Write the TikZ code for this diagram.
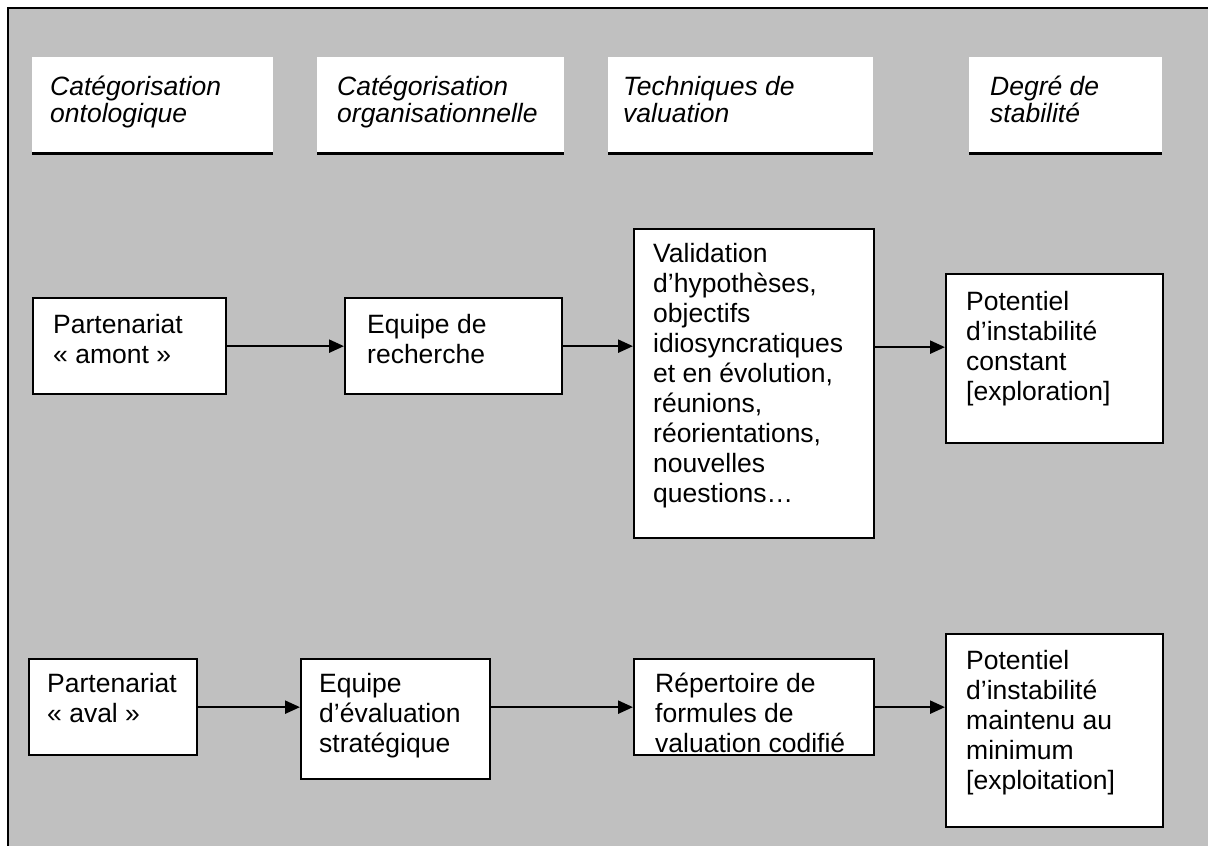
\documentclass[tikz,border=0pt]{standalone}
\usepackage{fontspec}
\setmainfont{Liberation Sans}
\usetikzlibrary{calc,arrows.meta}
\definecolor{bggray}{RGB}{192,192,192}
\begin{document}
\begin{tikzpicture}[x=1pt,y=-1pt,
  box/.style={draw=black,line width=2.3pt,fill=white,anchor=north west,inner sep=0pt},
  hdrbox/.style={fill=white,anchor=north west,inner sep=0pt},
  txt/.style={anchor=base west,inner sep=0pt,font=\fontsize{26.5}{30}\selectfont},
  htxt/.style={anchor=base west,inner sep=0pt,font=\fontsize{26.5}{27}\selectfont\itshape},
  uline/.style={line width=2.3pt},
  arr/.style={line width=2.3pt,-{Triangle[length=15pt,width=13pt]}}]
\useasboundingbox (0,0) rectangle (1208,846);
\clip (0,0) rectangle (1208,846);
% frame
\fill[bggray] (8,8) rectangle (1230,870);
\draw[line width=2.3pt] (1230,8) -- (8,8) -- (8,870);
% header boxes
\node[hdrbox,minimum width=241,minimum height=96] (h1) at (32,57) {};
\node[hdrbox,minimum width=247,minimum height=96] (h2) at (317,57) {};
\node[hdrbox,minimum width=265,minimum height=96] (h3) at (608,57) {};
\node[hdrbox,minimum width=193,minimum height=96] (h4) at (969,57) {};
\foreach \h in {h1,h2,h3,h4} \draw[uline] (\h.south west) -- (\h.south east);
\node[htxt] (ht1) at ($(h1.north west)+(18,38)$) {\begin{tabular}[t]{@{}l@{}}Catégorisation\\ontologique\end{tabular}};
\node[htxt] (ht2) at ($(h2.north west)+(20,38)$) {\begin{tabular}[t]{@{}l@{}}Catégorisation\\organisationnelle\end{tabular}};
\node[htxt] (ht3) at ($(h3.north west)+(15,38)$) {\begin{tabular}[t]{@{}l@{}}Techniques de\\valuation\end{tabular}};
\node[htxt] (ht4) at ($(h4.north west)+(21,38)$) {\begin{tabular}[t]{@{}l@{}}Degré de\\stabilité\end{tabular}};
% row 1
\node[box,minimum width=193,minimum height=96] (a1) at (32,297) {};
\node[box,minimum width=217,minimum height=96] (b1) at (344,297) {};
\node[box,minimum width=240,minimum height=309] (c1) at (633,228) {};
\node[box,minimum width=217,minimum height=169] (d1) at (945,273) {};
\node[txt] (ta1) at ($(a1.north west)+(21,36)$) {\begin{tabular}[t]{@{}l@{}}Partenariat\\« amont »\end{tabular}};
\node[txt] (tb1) at ($(b1.north west)+(23,36)$) {\begin{tabular}[t]{@{}l@{}}Equipe de\\recherche\end{tabular}};
\node[txt] (tc1) at ($(c1.north west)+(20,34)$) {\begin{tabular}[t]{@{}l@{}}Validation\\d’hypothèses,\\objectifs\\idiosyncratiques\\et en évolution,\\réunions,\\réorientations,\\nouvelles\\questions…\end{tabular}};
\node[txt] (td1) at ($(d1.north west)+(21,37)$) {\begin{tabular}[t]{@{}l@{}}Potentiel\\d’instabilité\\constant\\{[exploration]}\end{tabular}};
% row 2
\node[box,minimum width=168,minimum height=96] (a2) at (28,658) {};
\node[box,minimum width=189,minimum height=120] (b2) at (300,658) {};
\node[box,minimum width=240,minimum height=96] (c2) at (633,658) {};
\node[box,minimum width=217,minimum height=193] (d2) at (945,633) {};
\node[txt] (ta2) at ($(a2.north west)+(19,34)$) {\begin{tabular}[t]{@{}l@{}}Partenariat\\« aval »\end{tabular}};
\node[txt] (tb2) at ($(b2.north west)+(19,34)$) {\begin{tabular}[t]{@{}l@{}}Equipe\\d’évaluation\\stratégique\end{tabular}};
\node[txt] (tc2) at ($(c2.north west)+(22,34)$) {\begin{tabular}[t]{@{}l@{}}Répertoire de\\formules de\\valuation codifié\end{tabular}};
\node[txt] (td2) at ($(d2.north west)+(21,36)$) {\begin{tabular}[t]{@{}l@{}}Potentiel\\d’instabilité\\maintenu au\\minimum\\{[exploitation]}\end{tabular}};
% arrows
\draw[arr] (a1.east) -- (a1.east -| b1.west);
\draw[arr] (b1.east) -- (b1.east -| c1.west);
\draw[arr] ($(b1.east -| c1.east)+(0,1)$) -- ($(b1.east -| d1.west)+(0,1)$);
\draw[arr] (a2.east) -- (a2.east -| b2.west);
\draw[arr] (a2.east -| b2.east) -- (a2.east -| c2.west);
\draw[arr] (c2.east) -- (c2.east -| d2.west);
\end{tikzpicture}
\end{document}
